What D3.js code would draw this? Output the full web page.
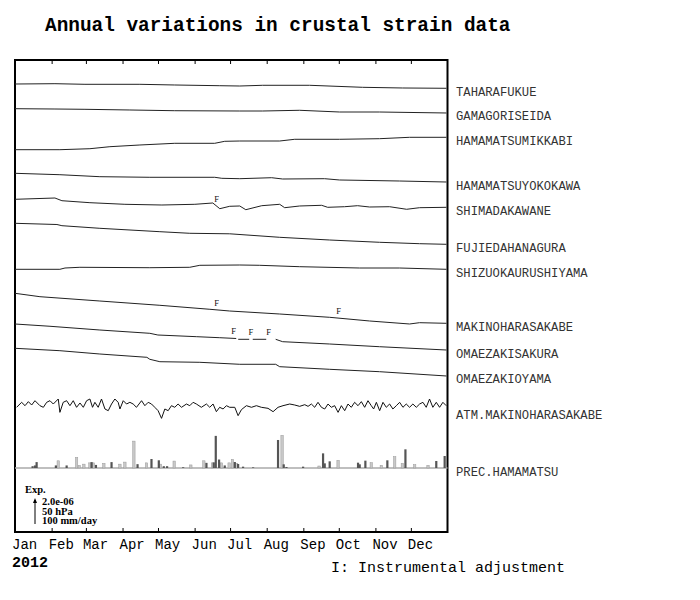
<!DOCTYPE html>
<html><head><meta charset="utf-8">
<script src="https://cdn.jsdelivr.net/npm/d3@7"></script>
<style>body{margin:0;background:#fff}</style>
</head><body><svg id="c" width="700" height="600"></svg>
<script>
// ---------------- DATA ----------------
const titleText = "Annual variations in crustal strain data";
const yearLabel = "2012";
const noteText = "I: Instrumental adjustment";
const monthLabels = ["Jan","Feb","Mar","Apr","May","Jun","Jul","Aug","Sep","Oct","Nov","Dec"];
const stationNames = ["TAHARAFUKUE","GAMAGORISEIDA","HAMAMATSUMIKKABI","HAMAMATSUYOKOKAWA","SHIMADAKAWANE",
  "FUJIEDAHANAGURA","SHIZUOKAURUSHIYAMA","MAKINOHARASAKABE","OMAEZAKISAKURA","OMAEZAKIOYAMA"];
const atmName = "ATM.MAKINOHARASAKABE";
const precName = "PREC.HAMAMATSU";
const legendLines = ["2.0e-06","50 hPa","100 mm/day"];

// strain series: [day of year, strain change in 1e-6]
const taharafukue = [[0,0],[33.8,0.025],[59.2,-0.025],[105.7,-0.025],[135.2,-0.083],[173.3,-0.142],[190.2,-0.167],[209.6,-0.108],[249.3,-0.108],[294.1,-0.275],[328,-0.333],[365.1,-0.358]];
const gamagoriseida = [[0,0],[33.8,-0.025],[59.2,-0.05],[97.2,-0.108],[135.2,-0.167],[190.2,-0.192],[209.6,-0.192],[240.9,-0.133],[274.7,-0.275],[308.5,-0.275],[365.1,-0.358]];
const hamamatsumikkabi = [[0,0],[38,0],[63.4,0.083],[80.3,0.25],[105.7,0.392],[135.2,0.533],[169,0.533],[177.5,0.7],[190.2,0.725],[224,0.725],[236.7,0.867],[274.7,0.867],[308.5,0.917],[333.9,1.033],[365.1,1.033]];
const hamamatsuyokokawa = [[0,0],[38,-0.117],[71.8,-0.283],[114.1,-0.333],[169,-0.333],[175,-0.417],[190.2,-0.45],[217.2,-0.367],[226.5,-0.475],[262,-0.45],[274.7,-0.558],[325.4,-0.642],[365.1,-0.725]];
const shimadakawane = [[0,0],[33.8,0.108],[39.7,-0.117],[63.4,-0.283],[93,-0.417],[124.3,-0.475],[152.2,-0.417],[167.4,-0.308],[173.3,-0.783],[181.7,-0.583],[190.2,-0.558],[195.3,-0.867],[208.8,-0.533],[224,-0.417],[228.2,-0.7],[240.9,-0.558],[259.5,-0.5],[264.6,-0.667],[278.9,-0.617],[289.9,-0.533],[300.1,-0.642],[317,-0.617],[331.4,-0.833],[342.4,-0.7],[365.1,-0.667]];
const fujiedahanagura = [[0,0],[35.5,-0.1],[39.7,-0.2],[71.8,-0.417],[122.6,-0.7],[147.9,-0.833],[181.7,-0.875],[224,-1.167],[266.3,-1.392],[308.5,-1.583],[342.3,-1.7],[365.1,-1.75]];
const shizuokaurushiyama = [[0,0],[38,0],[42.3,0.108],[54.9,0.167],[114.1,0.133],[147.9,0.167],[156.4,0.333],[190.2,0.358],[207.1,0.333],[240.9,0.217],[291.6,0.108],[325.4,0.108],[365.1,0]];
const makinoharasakabe = [[0,0],[21.1,-0.283],[71.8,-0.642],[122.6,-1.0],[164.9,-1.333],[181.7,-1.475],[224,-1.725],[266.3,-2.0],[300.1,-2.308],[333.9,-2.558],[342.3,-2.45],[365.1,-2.5]];
const omaezakisakura = [[0,0],[29.6,-0.19],[71.8,-0.5],[114.1,-0.775],[120.9,-0.917],[153.8,-1.058],[173.3,-1.142],[187.2,-1.208],[187.8,null],[188.9,-1.275],[198.2,-1.275],[199.5,null],[201.2,-1.275],[212.6,-1.275],[216,null],[220.6,-1.275],[226.5,-1.475],[266.3,-1.667],[308.5,-1.892],[365.1,-2.167]];
const omaezakioyama = [[0,0],[38,-0.2],[71.8,-0.475],[111.6,-0.75],[114.1,-0.917],[122.6,-1.117],[156.4,-1.167],[190.2,-1.333],[220.6,-1.333],[224,-1.533],[266.3,-1.75],[308.5,-1.95],[365.1,-2.308]];
const strainSeries = [taharafukue, gamagoriseida, hamamatsumikkabi, hamamatsuyokokawa, shimadakawane,
  fujiedahanagura, shizuokaurushiyama, makinoharasakabe, omaezakisakura, omaezakioyama];

// instrumental adjustment days
const adjustShimada = [170.7];
const adjustMakino = [170.7, 273.9];
const adjustSakura = [185.1, 199.5, 214.7];

// atmospheric pressure anomaly: [day, hPa]
const atmPressure = [[1.4,-6.9],[5.6,3.5],[8.5,-3.5],[11.3,4.9],[14.1,-2.1],[16.9,6.9],[21.1,-3.5],[24,-6.9],[26.8,3.5],[29.6,6.9],[32.4,0],[36.6,10.4],[38,-17.4],[40.8,3.5],[43.7,6.9],[46.5,-3.5],[49.3,6.9],[52.1,-6.9],[55,2.1],[57.8,-6.9],[60.6,6.9],[63.4,10.4],[65.6,-6.9],[67.6,3.5],[70.4,-6.9],[73.2,10.4],[76.1,-10.4],[78.9,-13.9],[81.7,0],[84.5,10.4],[87.3,3.5],[88.8,-10.4],[91.6,6.9],[94.4,0],[97.2,3.5],[100,0],[102.8,-6.9],[107.1,6.9],[109.9,-3.5],[112.7,3.5],[115.5,0],[118.3,-6.9],[121.1,-13.9],[124,-29.9],[126.8,-10.4],[129.6,-13.9],[132.4,-3.5],[135.2,-6.9],[138,0],[140.9,-6.9],[145.1,0],[147.9,-3.5],[150.7,3.5],[153.5,0],[157.7,-6.9],[162,0],[164.8,-6.9],[167.6,0],[170.4,-16],[173.2,-6.9],[176.1,-10.4],[178.9,-3.5],[181.7,-6.9],
  [186,-6.9],[188.8,-24.3],[191.6,-11.8],[195.8,-3.5],[200.1,-6.9],[204.3,-3.5],[208.5,-6.9],[214.1,-9],[218.4,-16],[222.6,-6.9],[226.8,-3.5],[232.5,0],[236.7,-2.1],[240.9,-4.9],[245.2,-1.4],[248,-4.9],[250.8,0],[253.6,-6.9],[256.4,3.5],[259.3,-6.9],[262.1,-10.4],[264.9,0],[267.7,-6.9],[270.5,-3.5],[273.4,-17.4],[276.2,-3.5],[279,-13.9],[281.8,0],[284.6,-6.9],[287.4,3.5],[290.3,-3.5],[293.1,4.9],[295.9,-6.9],[298.7,6.9],[301.5,-3.5],[303.5,-10.4],[305.8,3.5],[308.6,-13.9],[311.4,3.5],[314.2,-6.9],[317,0],[319.8,-10.4],[322.7,-3.5],[325.5,3.5],[328.3,-6.9],[331.1,0],[333.9,-6.9],[336.7,0],[339.6,-6.9],[342.4,0],[345.2,3.5],[348,-6.9],[350.8,10.4],[353.6,-6.9],[356.5,3.5],[359.3,-6.9],[362.1,3.5],[364.9,-3.5]];

// precipitation [day, mm/day], two shades in the reference
const precDark = [[14.9,7.5],[16.9,10.7],[18.3,24.6],[34.6,10.7],[43.7,10.7],[64.8,24.6],[68.5,12.8],[81.7,24.6],[103.7,16],[115.5,37.5],[121.7,32.1],[125.9,7.5],[128.7,7.5],[142.3,3.2],[162,21.4],[168.2,23.5],[169.9,133.8],[172.7,35.3],[177.5,10.7],[186,25],[188.8,16.7],[193,5.6],[201.5,2.8],[222.6,116.7],[227.4,15.3],[229.7,4.2],[243.8,5.6],[260.7,61],[262.1,19.4],[266.3,27.8],[290.3,22.2],[291.7,15.3],[296.5,30.6],[315.1,32],[330.4,77.8],[356.5,29.2],[363.6,50]];
const precLight = [[36.6,30],[52.1,43.9],[54.4,10.7],[58.3,16],[63.4,21.4],[66.2,21.4],[75.2,19.3],[88.8,16],[93,24.6],[100.6,112],[111.3,21.4],[123.1,16],[134.7,28.9],[148.8,12.8],[159.8,30],[167.1,21.4],[174.7,21.4],[181.2,21.4],[184,36],[187.5,19.4],[226,136],[257.3,8.3],[273.4,32],[301.5,22.2],[310,11.1],[321.3,47.2],[327.8,19.4],[338.2,13.9],[349.5,11.1]];

// ---------------- LAYOUT ----------------
const frame = {left:15, right:447.5, top:60, bottom:532};
const traceBase = [84, 108.7, 149.7, 173.3, 199.3, 223.3, 269.3, 293.3, 324, 348.3];
const atmBase = 404, precBase = 468;
const pxPerUnit = 12; // 24px = 2.0e-6 = 50 hPa = 100 mm/day
const mono = "'Liberation Mono', 'DejaVu Sans Mono', monospace";

const svg = d3.select("#c");
const t0 = Date.UTC(2012,0,1);
const toDate = d => new Date(t0 + d*864e5);
const x = d3.scaleUtc().domain([toDate(0), toDate(366)]).range([frame.left, frame.right]);
const monthStarts = d3.range(12).map(m => new Date(Date.UTC(2012, m, 1)));

// title
svg.append("text").attr("x",45).attr("y",31).attr("font-family",mono).attr("font-weight","bold")
  .attr("font-size",19.4).attr("fill","#000").text(titleText);

// frame
svg.append("rect").attr("x",frame.left).attr("y",frame.top).attr("width",frame.right-frame.left)
  .attr("height",frame.bottom-frame.top).attr("fill","none").attr("stroke","#000").attr("stroke-width",2);

// ticks top and bottom
const topAxis = svg.append("g").attr("transform",`translate(0,${frame.top})`)
  .call(d3.axisBottom(x).tickValues(monthStarts.slice(1)).tickSize(4).tickFormat(""));
const botAxis = svg.append("g").attr("transform",`translate(0,${frame.bottom})`)
  .call(d3.axisTop(x).tickValues(monthStarts.slice(1)).tickSize(4).tickFormat(""));
[topAxis, botAxis].forEach(g => { g.select(".domain").remove(); g.selectAll("line").attr("stroke","#000"); });

// month labels
svg.append("g").selectAll("text").data(monthStarts).join("text")
  .attr("x", d => x(d) - 3).attr("y", 549).attr("font-family",mono).attr("font-size",14)
  .attr("fill","#000").text((d,i) => monthLabels[i]);
svg.append("text").attr("x",12).attr("y",567).attr("font-family",mono).attr("font-weight","bold")
  .attr("font-size",15).text(yearLabel);
svg.append("text").attr("x",331).attr("y",572).attr("font-family",mono).attr("font-size",15).text(noteText);

// strain traces
const adjustments = {4: adjustShimada, 7: adjustMakino, 8: adjustSakura};
strainSeries.forEach((series, i) => {
  const y = d3.scaleLinear().domain([-1,1]).range([traceBase[i]+pxPerUnit, traceBase[i]-pxPerUnit]);
  const line = d3.line().defined(d => d[1] !== null).x(d => x(toDate(d[0]))).y(d => y(d[1]));
  svg.append("path").datum(series).attr("d",line).attr("fill","none").attr("stroke","#222").attr("stroke-width",1);
  const valid = series.filter(d => d[1] !== null);
  const last = valid[valid.length-1];
  svg.append("text").attr("x",456).attr("y", y(last[1]) + 7.5).attr("font-family",mono)
    .attr("font-size",12.2).attr("fill","#333").text(stationNames[i]);
  const interp = day => {
    const j = d3.bisector(d => d[0]).left(valid, day);
    const a = valid[Math.max(0,j-1)], b = valid[Math.min(valid.length-1,j)];
    if (a[0] === b[0]) return a[1];
    return a[1] + (b[1]-a[1])*(day-a[0])/(b[0]-a[0]);
  };
  (adjustments[i] || []).forEach(day => {
    svg.append("text").attr("x", x(toDate(day))).attr("y", y(interp(day)) - 4).attr("text-anchor","middle")
      .attr("font-family","'Liberation Serif', serif").attr("font-size",8.5).attr("fill","#111").text("F");
  });
});

// atmospheric pressure
const yAtm = d3.scaleLinear().domain([-25,25]).range([atmBase+pxPerUnit, atmBase-pxPerUnit]);
svg.append("path").datum(atmPressure)
  .attr("d", d3.line().x(d => x(toDate(d[0]))).y(d => yAtm(d[1])))
  .attr("fill","none").attr("stroke","#111").attr("stroke-width",1);
svg.append("text").attr("x",456).attr("y",419).attr("font-family",mono).attr("font-size",12.2)
  .attr("fill","#333").text(atmName);

// precipitation
const yPrec = d3.scaleLinear().domain([0,100]).range([precBase, precBase-2*pxPerUnit]);
svg.append("line").attr("x1",frame.left).attr("x2",frame.right).attr("y1",precBase).attr("y2",precBase)
  .attr("stroke","#aaa").attr("stroke-width",1.5);
svg.append("g").selectAll("rect").data(precLight).join("rect")
  .attr("x", d => x(toDate(d[0])) - 1.2).attr("width",2.4)
  .attr("y", d => yPrec(d[1])).attr("height", d => precBase - yPrec(d[1]))
  .attr("fill","#c8c8c8").attr("stroke","#999").attr("stroke-width",0.5);
svg.append("g").selectAll("rect").data(precDark).join("rect")
  .attr("x", d => x(toDate(d[0])) - 1.1).attr("width",2.2)
  .attr("y", d => yPrec(d[1])).attr("height", d => precBase - yPrec(d[1]))
  .attr("fill","#555");
svg.append("text").attr("x",456).attr("y",precBase+8).attr("font-family",mono).attr("font-size",12.2)
  .attr("fill","#333").text(precName);

// scale legend
const serif = "'Liberation Serif', 'DejaVu Serif', serif";
svg.append("text").attr("x",25).attr("y",493).attr("font-family",serif).attr("font-weight","bold")
  .attr("font-size",10.5).text("Exp.");
svg.append("line").attr("x1",35).attr("x2",35).attr("y1",524).attr("y2",500).attr("stroke","#000").attr("stroke-width",1);
svg.append("path").attr("d","M35,498 L33,503 L37,503 Z").attr("fill","#000");
svg.append("g").selectAll("text").data(legendLines).join("text")
  .attr("x",42).attr("y",(d,i) => 505 + i*9.7).attr("font-family",serif).attr("font-weight","bold")
  .attr("font-size",10.5).text(d => d);
</script>
</body></html>
